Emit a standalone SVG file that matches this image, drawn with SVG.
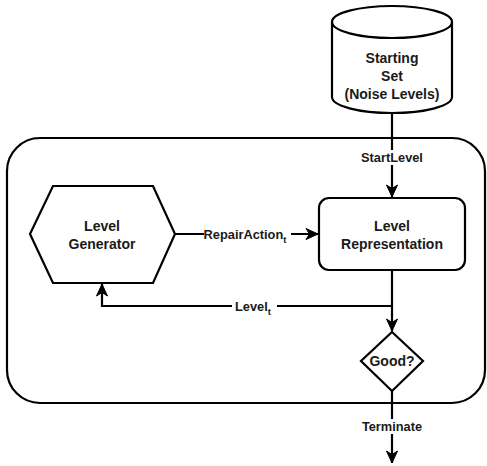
<svg xmlns="http://www.w3.org/2000/svg" width="487" height="466" viewBox="0 0 487 466">
<defs>
<style>
.shape{fill:#fff;stroke:#000;stroke-width:2.2}
.edge{fill:none;stroke:#000;stroke-width:2.2}
.nt{font-family:"Liberation Sans",Arial,sans-serif;font-weight:bold;font-size:14px;fill:#1a1a1a;text-anchor:middle}
.lt{font-family:"Liberation Sans",Arial,sans-serif;font-weight:bold;font-size:12.8px;fill:#1a1a1a;text-anchor:middle}
.bg{fill:#fff}
</style>
<marker id="arr" markerUnits="userSpaceOnUse" markerWidth="14" markerHeight="14" viewBox="0 0 14 14" refX="13" refY="7" orient="auto">
<path d="M1,1.5 L13,7 L1,12.5 L4.5,7 Z" fill="#000" stroke="#000" stroke-width="1"/>
</marker>
</defs>
<rect width="487" height="466" fill="#fff"/>
<g id="container">
<rect class="shape" x="7" y="138" width="478" height="265" rx="33" ry="33" fill="none"/>
</g>
<g id="connectors">
<line class="edge" x1="392" y1="113" x2="392" y2="197" marker-end="url(#arr)"/>
<rect class="bg" x="356" y="150" width="72" height="15"/>
<text class="lt" x="392" y="162">StartLevel</text>
<line class="edge" x1="175" y1="234" x2="318" y2="234" marker-end="url(#arr)"/>
<rect class="bg" x="204" y="226" width="87" height="17"/>
<text class="lt" x="245" y="239">RepairAction<tspan font-size="9.5px" dy="4">t</tspan></text>
<line class="edge" x1="392" y1="270" x2="392" y2="331" marker-end="url(#arr)"/>
<polyline class="edge" points="392,306 102,306 102,284" marker-end="url(#arr)"/>
<rect class="bg" x="232" y="298" width="45" height="17"/>
<text class="lt" x="253" y="311">Level<tspan font-size="9.5px" dy="4">t</tspan></text>
<line class="edge" x1="392" y1="391" x2="392" y2="463" marker-end="url(#arr)"/>
<rect class="bg" x="359" y="419" width="66" height="15"/>
<text class="lt" x="392" y="431">Terminate</text>
</g>
<g id="starting-set">
<path class="shape" d="M332,22 L332,97 A60,16 0 0 0 452,97 L452,22 A60,16 0 0 0 332,22 Z"/>
<path class="edge" d="M332,22 A60,16 0 0 0 452,22"/>
<text class="nt" x="392" y="63">Starting</text>
<text class="nt" x="392" y="81">Set</text>
<text class="nt" x="392" y="99">(Noise Levels)</text>
</g>
<g id="level-generator">
<polygon class="shape" points="30,234 53,186 153,186 175,234 153,283 53,283"/>
<text class="nt" x="102" y="231">Level</text>
<text class="nt" x="102" y="249">Generator</text>
</g>
<g id="level-representation">
<rect class="shape" x="319" y="198" width="146" height="72" rx="10" ry="10"/>
<text class="nt" x="392" y="231">Level</text>
<text class="nt" x="392" y="249">Representation</text>
</g>
<g id="good">
<polygon class="shape" points="392,332 423,361 392,391 361,361"/>
<text class="nt" x="392" y="366">Good?</text>
</g>
</svg>
